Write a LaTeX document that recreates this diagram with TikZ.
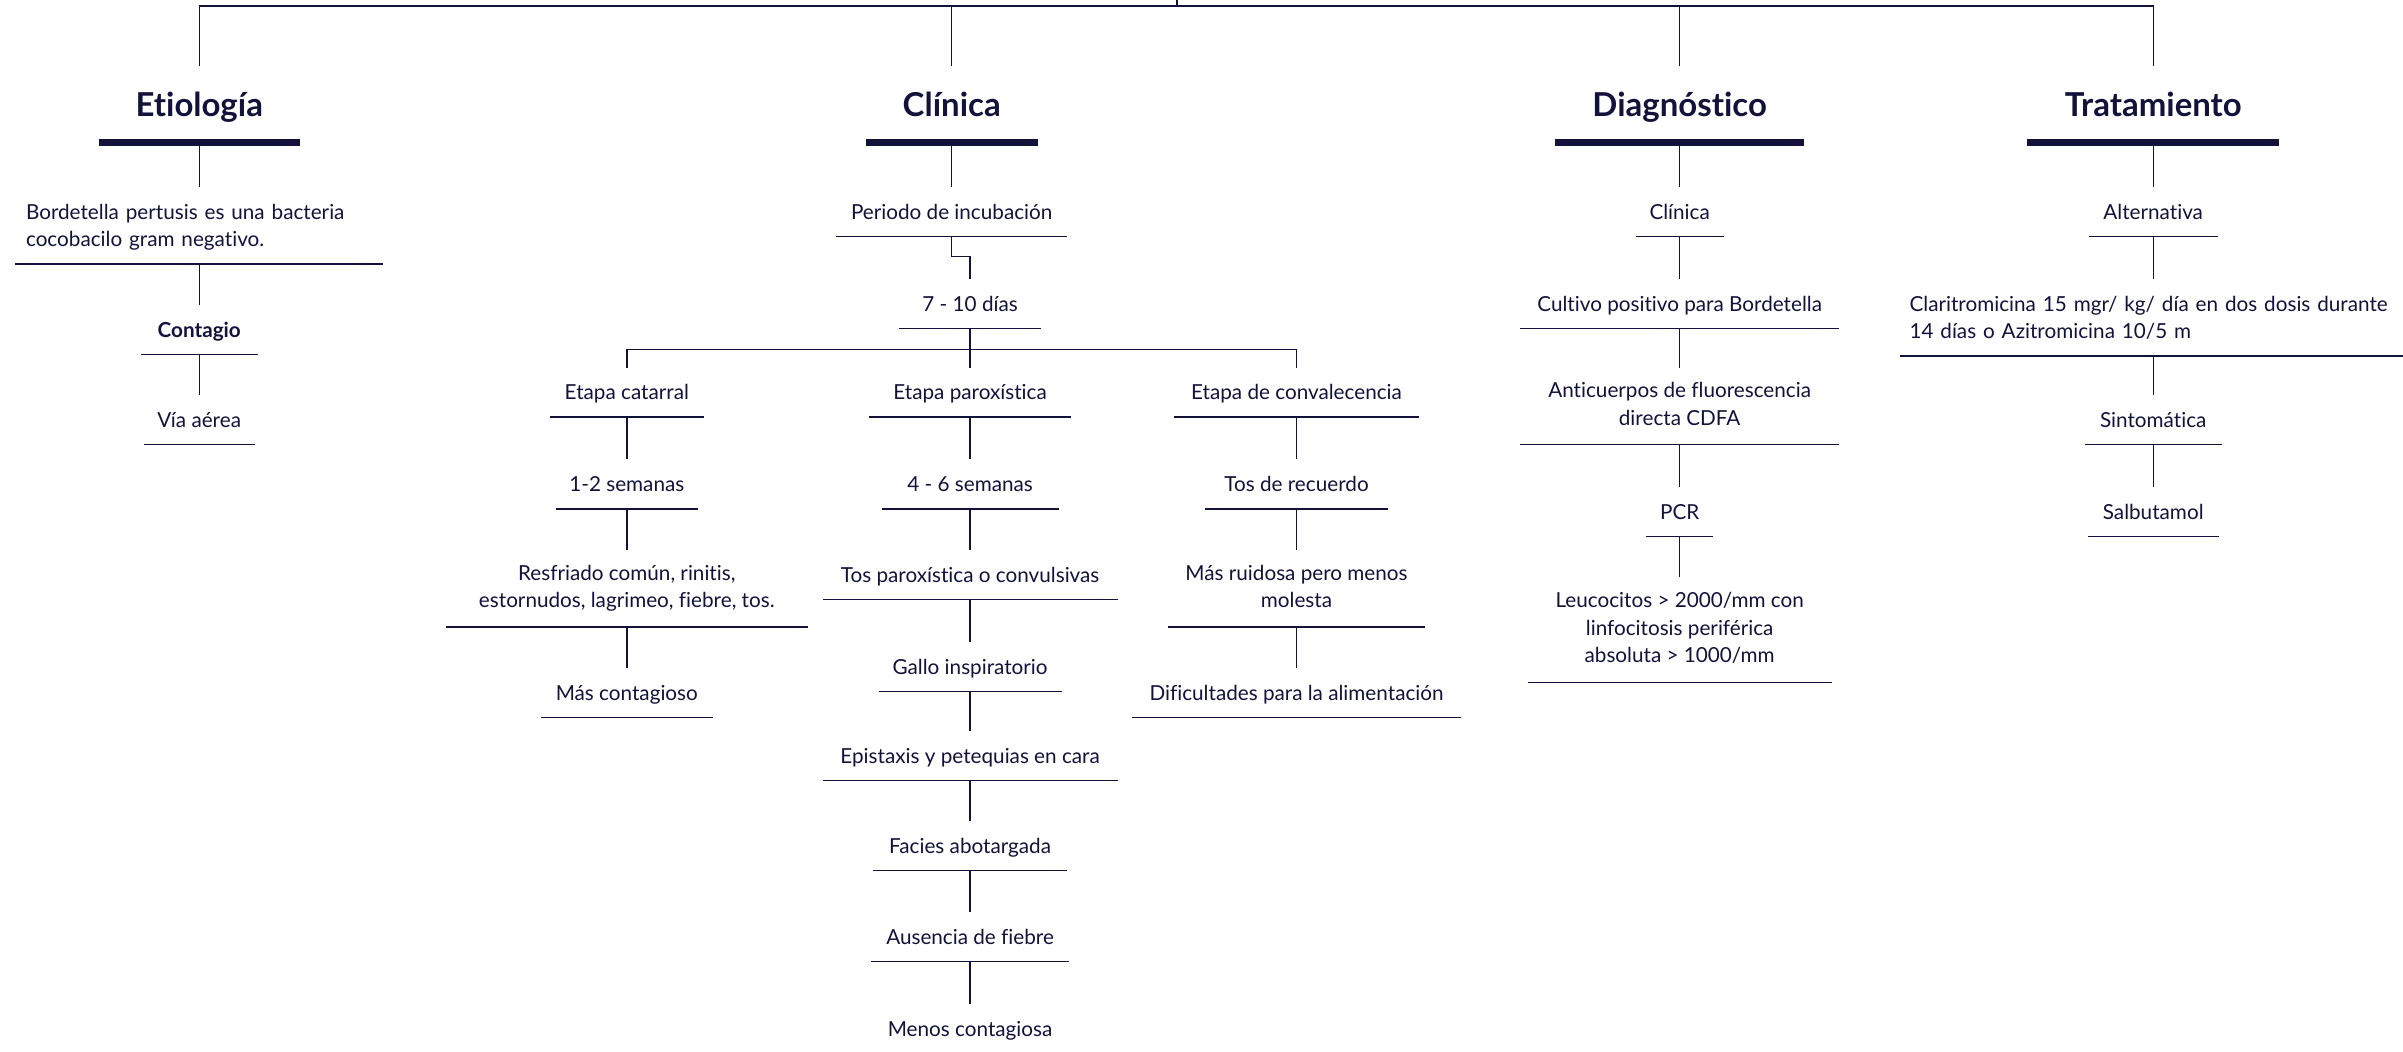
\documentclass[tikz,border=0pt]{standalone}
\usepackage{fontspec}
\setmainfont{Lato}[Ligatures={NoCommon}]
\definecolor{navy}{HTML}{12123A}
\tikzset{
  leaf/.style={inner sep=0pt, minimum height=32pt, align=center, text=navy,
    font=\fontsize{13.5}{18}\selectfont,
    execute at begin node={\vrule width 0pt height 13pt},
    execute at end node={\vrule width 0pt depth 3pt}},
  head/.style={inner sep=0pt, minimum height=50pt, text=navy,
    font=\fontsize{21.5}{26}\selectfont\bfseries,
    execute at begin node={\vrule width 0pt height 20pt},
    execute at end node={\vrule width 0pt depth 4.5pt}},
  link/.style={navy, line width=0.9pt},
  heavy/.style={navy, line width=4.5pt},
}
\begin{document}
\begin{tikzpicture}[x=1pt,y=-1pt]
\useasboundingbox (0,0) rectangle (1568,686);

% top level
\coordinate (top) at (768,0);
\coordinate (bus) at (768,4);
\node[head, minimum width=131pt] (etio) at (130,68) {Etiología};
\node[head, minimum width=112pt] (clin) at (621,68) {Clínica};
\node[head, minimum width=162pt] (diag) at (1096,68) {Diagnóstico};
\node[head, minimum width=164pt] (trat) at (1405,68) {Tratamiento};

% etiologia
\node[leaf, minimum height=50pt, text width=226pt, inner xsep=7pt, align=left] (bord) at (130,147)
  {Bordetella pertusis es una bacteria\\cocobacilo gram negativo.};
\node[leaf, minimum width=76pt, font=\fontsize{13.5}{18}\selectfont\bfseries] (contagio) at (130,215) {Contagio};
\node[leaf, minimum width=72pt] (via) at (130,274) {Vía aérea};

% clinica
\node[leaf, minimum width=150pt] (incub) at (621,138) {Periodo de incubación};
\node[leaf, minimum width=92pt] (dias) at (633,198) {7 - 10 días};
\coordinate (fork) at (633,228);
\node[leaf, minimum width=100pt] (cat) at (409,256) {Etapa catarral};
\node[leaf, minimum width=131pt] (parox) at (633,256) {Etapa paroxística};
\node[leaf, minimum width=159pt] (conv) at (846,256) {Etapa de convalecencia};
\node[leaf, minimum width=92pt] (sem12) at (409,316) {1-2 semanas};
\node[leaf, minimum width=115pt] (sem46) at (633,316) {4 - 6 semanas};
\node[leaf, minimum width=119pt] (recuerdo) at (846,316) {Tos de recuerdo};
\node[leaf, minimum width=236pt, minimum height=50pt] (resfr) at (409,384)
  {Resfriado común, rinitis,\\estornudos, lagrimeo, fiebre, tos.};
\node[leaf, minimum width=192pt] (tosparox) at (633,375) {Tos paroxística o convulsivas};
\node[leaf, minimum width=167pt, minimum height=50pt] (ruidosa) at (846,384)
  {Más ruidosa pero menos\\molesta};
\node[leaf, minimum width=112pt] (mascont) at (409,452) {Más contagioso};
\node[leaf, minimum width=119pt] (gallo) at (633,435) {Gallo inspiratorio};
\node[leaf, minimum width=214pt] (dificult) at (846,452) {Dificultades para la alimentación};
\node[leaf, minimum width=192pt] (epist) at (633,493) {Epistaxis y petequias en cara};
\node[leaf, minimum width=126pt] (facies) at (633,552) {Facies abotargada};
\node[leaf, minimum width=129pt] (ausencia) at (633,611) {Ausencia de fiebre};
\node[leaf, minimum width=129pt] (menos) at (633,671) {Menos contagiosa};

% diagnostico
\node[leaf, minimum width=57pt] (dclin) at (1096,138) {Clínica};
\node[leaf, minimum width=208pt] (cultivo) at (1096,198) {Cultivo positivo para Bordetella};
\node[leaf, minimum width=208pt, minimum height=50pt] (anticuerpos) at (1096,265)
  {Anticuerpos de fluorescencia\\directa CDFA};
\node[leaf, minimum width=43pt] (pcr) at (1096,334) {PCR};
\node[leaf, minimum width=198pt, minimum height=68pt] (leuco) at (1096,411)
  {Leucocitos > 2000/mm con\\linfocitosis periférica\\absoluta > 1000/mm};

% tratamiento
\node[leaf, minimum width=84pt] (alter) at (1405,138) {Alternativa};
\node[leaf, minimum height=50pt, text width=318pt, inner xsep=6pt, align=left] (clari) at (1405,207)
  {Claritromicina 15 mgr/ kg/ día en dos dosis durante\\14 días o Azitromicina 10/5 m};
\node[leaf, minimum width=89pt] (sinto) at (1405,274) {Sintomática};
\node[leaf, minimum width=85pt] (salbu) at (1405,334) {Salbutamol};

% underlines
\foreach \n in {etio,clin,diag,trat}
  \draw[heavy] (\n.south west) -- (\n.south east);
\foreach \n in {bord,contagio,via,incub,dias,cat,parox,conv,sem12,sem46,recuerdo,
    resfr,tosparox,ruidosa,mascont,gallo,dificult,epist,facies,ausencia,
    dclin,cultivo,anticuerpos,pcr,leuco,alter,clari,sinto,salbu}
  \draw[link] (\n.south west) -- (\n.south east);

% connectors
\draw[link] (top) -- (bus);
\foreach \n in {etio,clin,diag,trat}
  \draw[link] (bus) -| (\n.north);
\draw[link] (incub.south) -- ++(0,13) -| (dias.north);
\draw[link] (fork) -| (cat.north);
\draw[link] (fork) -| (conv.north);
\foreach \a/\b in {etio/bord,bord/contagio,contagio/via,clin/incub,dias/parox,
    cat/sem12,sem12/resfr,resfr/mascont,parox/sem46,sem46/tosparox,tosparox/gallo,
    gallo/epist,epist/facies,facies/ausencia,ausencia/menos,conv/recuerdo,
    recuerdo/ruidosa,ruidosa/dificult,diag/dclin,dclin/cultivo,cultivo/anticuerpos,
    anticuerpos/pcr,pcr/leuco,trat/alter,alter/clari,clari/sinto,sinto/salbu}
  \draw[link] (\a.south) -- (\b.north);
\end{tikzpicture}
\end{document}
